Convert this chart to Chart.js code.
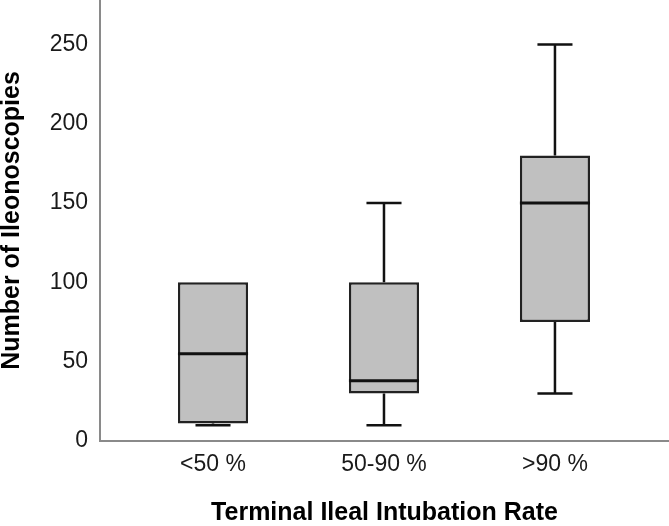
<!DOCTYPE html>
<html>
<head>
<meta charset="utf-8">
<script src="https://cdn.jsdelivr.net/npm/chart.js@4/dist/chart.umd.min.js"></script>
<style>
  html, body { margin: 0; padding: 0; background: #fff; }
  #wrap { width: 669px; height: 526px; }
</style>
</head>
<body>
<div id="wrap"><canvas id="chart"></canvas></div>
<script>
// box plot: number of ileonoscopies by terminal ileal intubation rate
const categories = ['<50 %', '50-90 %', '>90 %'];
const minValues = [10, 10, 30];
const q1Values = [11, 30, 75];
const medianValues = [55, 38, 150];
const q3Values = [100, 100, 180];
const maxValues = [100, 150, 250];
const yTicks = [0, 50, 100, 150, 200, 250];

const boxData = categories.map(function (c, i) {
    return { x: i, y: [q1Values[i], q3Values[i]] };
});

// whiskers, caps and medians drawn on top of the floating bars
const boxPlotLines = {
    id: 'boxPlotLines',
    afterDatasetsDraw(chart) {
        const ctx = chart.ctx;
        const y = chart.scales.y;
        const bars = chart.getDatasetMeta(0).data;
        ctx.save();
        ctx.strokeStyle = '#111';
        ctx.lineCap = 'butt';
        bars.forEach(function (bar, i) {
            const half = bar.width / 2;
            const capHalf = bar.width / 4;
            const yMin = y.getPixelForValue(minValues[i]);
            const yQ1 = y.getPixelForValue(q1Values[i]);
            const yQ3 = y.getPixelForValue(q3Values[i]);
            const yMax = y.getPixelForValue(maxValues[i]);
            const yMed = y.getPixelForValue(medianValues[i]);

            ctx.lineWidth = 2.5;
            ctx.beginPath();
            if (maxValues[i] > q3Values[i]) {
                ctx.moveTo(bar.x, yQ3); ctx.lineTo(bar.x, yMax);
                ctx.moveTo(bar.x - capHalf, yMax); ctx.lineTo(bar.x + capHalf, yMax);
            }
            ctx.moveTo(bar.x, yQ1); ctx.lineTo(bar.x, yMin);
            ctx.moveTo(bar.x - capHalf, yMin); ctx.lineTo(bar.x + capHalf, yMin);
            ctx.stroke();

            ctx.lineWidth = 3;
            ctx.beginPath();
            ctx.moveTo(bar.x - half, yMed); ctx.lineTo(bar.x + half, yMed);
            ctx.stroke();
        });
        ctx.restore();
    }
};

new Chart(document.getElementById('chart'), {
    type: 'bar',
    data: {
        datasets: [{
            data: boxData,
            backgroundColor: '#c0c0c0',
            borderColor: '#222',
            borderWidth: 2.5,
            borderSkipped: false,
            barPercentage: 0.41,
            categoryPercentage: 1
        }]
    },
    options: {
        responsive: true,
        maintainAspectRatio: false,
        animation: false,
        layout: { padding: 0 },
        plugins: {
            legend: { display: false },
            tooltip: { enabled: false }
        },
        scales: {
            x: {
                type: 'linear',
                offset: false,
                min: -0.661,
                max: 2.667,
                grid: { display: false, drawTicks: false, offset: false },
                border: { display: true, color: '#8a8a8a', width: 2 },
                ticks: {
                    stepSize: 1,
                    includeBounds: false,
                    padding: 10,
                    color: '#1a1a1a',
                    font: { family: "'Liberation Sans', Arial, sans-serif", size: 23 },
                    callback: function (v) { return categories[v] !== undefined ? categories[v] : ''; }
                },
                title: {
                    display: true,
                    text: 'Terminal Ileal Intubation Rate',
                    color: '#000',
                    padding: 0,
                    font: { family: "'Liberation Sans', Arial, sans-serif", size: 25, weight: 'bold', lineHeight: 1 }
                },
                afterFit: function (scale) {
                    scale.height = 85;
                    scale.paddingLeft = 0;
                    scale.paddingRight = 0;
                }
            },
            y: {
                min: 0,
                max: 278,
                grid: { display: false, drawTicks: false },
                border: { display: true, color: '#8a8a8a', width: 2 },
                afterBuildTicks: function (scale) {
                    scale.ticks = yTicks.map(function (v) { return { value: v }; });
                },
                ticks: {
                    padding: 12,
                    color: '#1a1a1a',
                    font: { family: "'Liberation Sans', Arial, sans-serif", size: 23 }
                },
                title: {
                    display: true,
                    text: 'Number of Ileonoscopies',
                    color: '#000',
                    padding: 0,
                    font: { family: "'Liberation Sans', Arial, sans-serif", size: 25, weight: 'bold', lineHeight: 1 }
                },
                afterFit: function (scale) {
                    scale.width = 100;
                    scale.paddingTop = 0;
                    scale.paddingBottom = 0;
                }
            }
        }
    },
    plugins: [boxPlotLines]
});
</script>
</body>
</html>
